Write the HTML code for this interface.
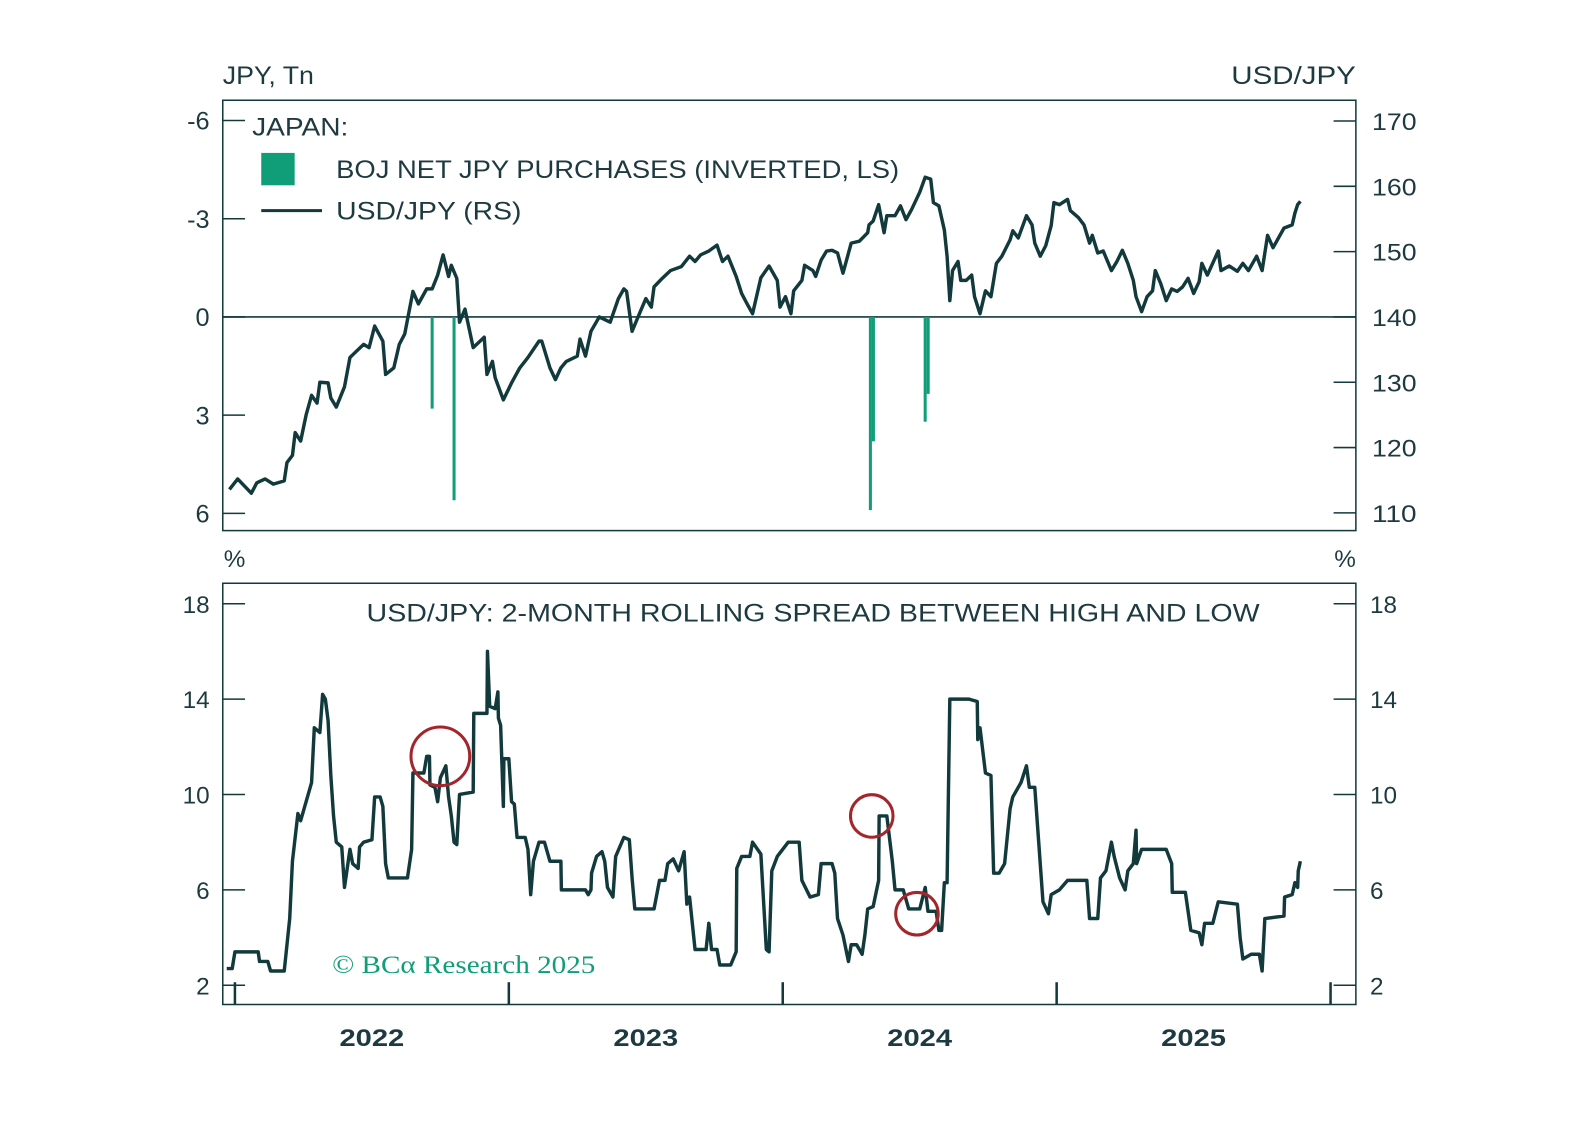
<!DOCTYPE html>
<html><head><meta charset="utf-8">
<style>
html,body{margin:0;padding:0;background:#fff;}
svg{display:block;font-family:"Liberation Sans",sans-serif;}
</style></head>
<body>
<svg id="chart" width="1588" height="1144" viewBox="0 0 1588 1144" xmlns="http://www.w3.org/2000/svg">
<rect x="0" y="0" width="1588" height="1144" fill="#fff"/>
<g transform="scale(1.0126)">
<g id="topPanel"></g>
<g id="botPanel"></g>
</g>
</svg>
<script>
// ---- data ----
const usdDates = [2021.98,2022.01,2022.06,2022.08,2022.11,2022.14,2022.18,2022.19,2022.21,2022.22,2022.24,2022.26,2022.28,2022.30,2022.31,2022.34,2022.35,2022.37,2022.40,2022.42,2022.44,2022.47,2022.49,2022.51,2022.54,2022.55,2022.58,2022.60,2022.62,2022.65,2022.67,2022.70,2022.72,2022.74,2022.76,2022.78,2022.79,2022.81,2022.82,2022.84,2022.87,2022.91,2022.92,2022.94,2022.95,2022.98,2023.01,2023.04,2023.07,2023.11,2023.12,2023.15,2023.17,2023.19,2023.21,2023.25,2023.26,2023.28,2023.30,2023.33,2023.37,2023.40,2023.42,2023.43,2023.45,2023.48,2023.50,2023.52,2023.53,2023.56,2023.59,2023.63,2023.66,2023.68,2023.70,2023.73,2023.76,2023.78,2023.80,2023.83,2023.85,2023.87,2023.89,2023.92,2023.95,2023.98,2023.99,2024.01,2024.03,2024.04,2024.07,2024.08,2024.11,2024.12,2024.14,2024.16,2024.18,2024.20,2024.22,2024.25,2024.28,2024.31,2024.315,2024.33,2024.35,2024.37,2024.38,2024.41,2024.43,2024.45,2024.47,2024.50,2024.52,2024.54,2024.55,2024.57,2024.59,2024.60,2024.61,2024.62,2024.64,2024.65,2024.67,2024.69,2024.70,2024.72,2024.74,2024.76,2024.78,2024.80,2024.83,2024.84,2024.86,2024.89,2024.91,2024.92,2024.94,2024.96,2024.98,2024.99,2025.01,2025.04,2025.05,2025.08,2025.10,2025.12,2025.13,2025.15,2025.17,2025.20,2025.22,2025.24,2025.26,2025.28,2025.29,2025.31,2025.33,2025.35,2025.36,2025.38,2025.40,2025.42,2025.44,2025.46,2025.48,2025.50,2025.52,2025.53,2025.55,2025.59,2025.60,2025.63,2025.66,2025.68,2025.70,2025.73,2025.75,2025.77,2025.79,2025.83,2025.86,2025.87,2025.88,2025.89];
const usdValues = [113.6,115.2,113,114.6,115.2,114.4,114.9,117.7,118.8,122.3,121,125,128,126.8,130,129.9,127.6,126.2,129.3,133.8,134.6,135.8,135.3,138.6,136.3,131.2,132.2,135.8,137.4,143.9,142,144.3,144.3,146.4,149.5,146.2,147.9,145.9,139.2,141.2,135.3,136.9,131.2,133.2,130.7,127.3,129.9,132.2,133.8,136.3,136.3,132.2,130.4,132.2,133.2,134,136.6,134,137.8,140,139.2,142.8,144.3,143.9,137.8,140.8,142.8,141.5,144.6,145.9,147.1,147.7,149.3,148.5,149.5,150.1,151,148.5,149.3,146.2,143.6,142,140.5,146,147.8,145.6,141.5,143.1,140.5,144,145.6,147.9,147.1,146.2,148.7,150.1,150.2,149.8,146.7,151.3,151.6,152.9,154.1,154.7,157.2,152.9,155.5,155.5,157,154.9,156.4,159.1,161.4,161.1,157.5,157,153.3,149.3,142.5,147.1,148.5,145.6,145.6,146.4,143.1,140.5,144,143.1,148.2,149.3,151.8,153.2,152.1,155.5,154.1,151.3,149.3,150.9,154,157.5,157.2,158,156.3,155.2,154.1,151.3,152.5,149.8,150.1,147.1,148.5,150.2,148.2,145.6,143.1,140.8,143.1,144,147.1,145.1,142.5,144.3,143.9,144.6,145.9,143.6,145.4,148.2,146.4,150.1,147.1,147.8,147,148.2,147.1,149.3,147.1,152.5,150.6,153.6,154.1,155.9,157.2,157.7];
const bojDates = [2022.72,2022.80,2024.32,2024.331,2024.52,2024.531];
const bojValues = [2.8,5.6,5.9,3.8,3.2,2.35];
const spreadDates = [2021.97,2021.99,2022.00,2022.085,2022.09,2022.12,2022.13,2022.18,2022.19,2022.20,2022.21,2022.23,2022.24,2022.26,2022.28,2022.29,2022.31,2022.32,2022.33,2022.34,2022.35,2022.36,2022.37,2022.39,2022.40,2022.42,2022.43,2022.45,2022.455,2022.47,2022.50,2022.51,2022.53,2022.54,2022.55,2022.56,2022.63,2022.645,2022.65,2022.69,2022.70,2022.71,2022.712,2022.73,2022.74,2022.75,2022.77,2022.78,2022.79,2022.80,2022.81,2022.82,2022.87,2022.872,2022.92,2022.922,2022.93,2022.95,2022.96,2022.962,2022.97,2022.98,2022.982,2023.00,2023.01,2023.02,2023.03,2023.06,2023.07,2023.08,2023.09,2023.11,2023.13,2023.15,2023.19,2023.192,2023.28,2023.29,2023.30,2023.302,2023.32,2023.34,2023.35,2023.36,2023.38,2023.39,2023.42,2023.44,2023.45,2023.46,2023.53,2023.55,2023.57,2023.58,2023.60,2023.62,2023.64,2023.65,2023.66,2023.68,2023.72,2023.73,2023.74,2023.76,2023.77,2023.81,2023.83,2023.832,2023.85,2023.88,2023.89,2023.92,2023.94,2023.95,2023.96,2023.98,2024.02,2024.06,2024.07,2024.10,2024.13,2024.14,2024.18,2024.19,2024.20,2024.22,2024.24,2024.25,2024.27,2024.29,2024.30,2024.31,2024.33,2024.35,2024.352,2024.38,2024.40,2024.41,2024.44,2024.46,2024.50,2024.52,2024.53,2024.56,2024.57,2024.58,2024.59,2024.60,2024.61,2024.68,2024.71,2024.712,2024.72,2024.74,2024.76,2024.77,2024.79,2024.81,2024.83,2024.84,2024.87,2024.89,2024.90,2024.92,2024.94,2024.95,2024.97,2024.98,2025.01,2025.04,2025.11,2025.12,2025.15,2025.16,2025.18,2025.20,2025.21,2025.23,2025.25,2025.26,2025.28,2025.29,2025.292,2025.31,2025.40,2025.42,2025.422,2025.47,2025.49,2025.52,2025.53,2025.54,2025.57,2025.59,2025.66,2025.67,2025.68,2025.71,2025.74,2025.75,2025.76,2025.83,2025.832,2025.86,2025.87,2025.88,2025.882,2025.89];
const spreadValues = [2.7,2.7,3.4,3.4,3.0,3.0,2.6,2.6,3.7,4.8,7.2,9.2,8.9,9.7,10.5,12.8,12.6,14.2,14.0,13.1,10.8,9.1,8.0,7.8,6.1,7.7,7.1,6.9,7.8,8.0,8.1,9.9,9.9,9.5,7.1,6.5,6.5,7.7,10.9,10.9,11.6,11.6,10.4,10.3,9.7,10.7,11.2,9.9,9.1,8.0,7.9,10.0,10.1,13.4,13.4,16.0,13.7,13.6,14.3,13.2,12.9,9.5,11.5,11.5,9.7,9.6,8.2,8.2,7.7,5.8,7.2,8.0,8.0,7.2,7.2,6.0,6.0,5.8,6.0,6.7,7.4,7.6,7.2,6.1,5.7,7.4,8.2,8.1,6.5,5.2,5.2,6.4,6.4,7.1,7.3,6.8,7.6,5.4,5.7,3.5,3.5,4.6,3.5,3.5,2.85,2.85,3.4,6.9,7.4,7.4,8.0,7.5,3.5,3.4,6.8,7.4,8.0,8.0,6.4,5.7,5.8,7.1,7.1,6.7,4.8,4.1,3.0,3.7,3.7,3.3,4.1,5.2,5.3,6.4,9.1,9.1,7.2,6.0,6.0,5.2,5.2,6.1,5.1,5.1,4.3,4.3,6.3,6.3,14.0,14.0,13.9,12.3,12.8,10.9,10.8,6.7,6.7,7.1,9.4,9.9,10.5,11.2,10.3,10.3,7.1,5.5,5.0,5.8,6.0,6.4,6.4,4.8,4.8,6.5,6.8,8.0,7.4,6.5,6.0,6.8,7.1,8.5,7.1,7.7,7.7,7.1,5.9,5.9,4.3,4.2,3.7,4.6,4.6,5.5,5.4,4.0,3.1,3.3,3.3,2.6,4.8,4.9,5.7,5.8,6.3,6.1,6.8,7.2];
const leftTicks = [-6,-3,0,3,6];
const rightTicks = [170,160,150,140,130,120,110];
const spreadTicks = [18,14,10,6,2];
const yearTicks = [2022,2023,2024,2025,2026];
const yearLabels = ["2022","2023","2024","2025"];
const circleDates = [2022.75,2024.325,2024.49];
const circleValues = [11.6,9.1,5.0];
const circleRadii = [29,21,21];

// ---- scales ----
const X0=220,X1=1339;
const xS = t => 232 + (t-2022)*270.5;
const yL = v => 313 + v*32.33;
const yR = v => 313 - (v-140)*6.45;
const yB = v => 973 - (v-2)*23.55;
const DARK="#123a3c", TXT="#1d3a40", GREEN="#0f9e78";
const NS="http://www.w3.org/2000/svg";
function mk(parent,tag,attrs,text){const e=document.createElementNS(NS,tag);for(const k in attrs)e.setAttribute(k,attrs[k]);if(text!==undefined)e.textContent=text;parent.appendChild(e);return e;}
const topG=document.getElementById('topPanel'), botG=document.getElementById('botPanel');

let el;
el=mk(topG,'text',{x:220,y:83,'font-size':25,fill:TXT,textLength:90,lengthAdjust:'spacingAndGlyphs'},'JPY, Tn');


el=mk(topG,'text',{x:1216,y:83,'font-size':25,fill:TXT,textLength:123,lengthAdjust:'spacingAndGlyphs'},'USD/JPY');


leftTicks.forEach(v=>{
  el=mk(topG,'line',{x1:220,x2:242,y1:yL(v),y2:yL(v),stroke:DARK,'stroke-width':1.5});
  
  
  el=mk(topG,'text',{x:207,y:yL(v)+9,'font-size':25,fill:TXT,'text-anchor':'end'},String(v));
  
  
});
rightTicks.forEach(v=>{
  el=mk(topG,'line',{x1:1317,x2:1339,y1:yR(v),y2:yR(v),stroke:DARK,'stroke-width':1.5});
  
  
  el=mk(topG,'text',{x:1355,y:yR(v)+9,'font-size':24,fill:TXT,textLength:44,lengthAdjust:'spacingAndGlyphs'},String(v));
  
  
});
el=mk(topG,'line',{x1:X0,x2:X1,y1:yL(0),y2:yL(0),stroke:DARK,'stroke-width':1.5});


bojDates.forEach((t,i)=>{
  el=mk(topG,'rect',{x:xS(t)-1.5,y:yL(0),width:3,height:yL(bojValues[i])-yL(0),fill:GREEN});
  
  
});
el=mk(topG,'polyline',{points:usdDates.map((t,i)=>xS(t).toFixed(1)+','+yR(usdValues[i]).toFixed(1)).join(' '),fill:'none',stroke:DARK,'stroke-width':3.4,'stroke-linejoin':'round'});


el=mk(topG,'rect',{x:X0,y:99,width:X1-X0,height:425,fill:'none',stroke:DARK,'stroke-width':1.5});


el=mk(topG,'text',{x:249,y:134,'font-size':25,fill:TXT,textLength:95,lengthAdjust:'spacingAndGlyphs'},'JAPAN:');


el=mk(topG,'rect',{x:258,y:151,width:33,height:32,fill:GREEN});


el=mk(topG,'text',{x:332,y:176,'font-size':25,fill:TXT,textLength:556,lengthAdjust:'spacingAndGlyphs'},'BOJ NET JPY PURCHASES (INVERTED, LS)');


el=mk(topG,'line',{x1:258,x2:318,y1:208,y2:208,stroke:DARK,'stroke-width':3});


el=mk(topG,'text',{x:332,y:217,'font-size':25,fill:TXT,textLength:183,lengthAdjust:'spacingAndGlyphs'},'USD/JPY (RS)');



el=mk(botG,'text',{x:221,y:560,'font-size':24,fill:TXT},'%');


el=mk(botG,'text',{x:1339,y:560,'font-size':24,fill:TXT,'text-anchor':'end'},'%');


spreadTicks.forEach(v=>{
  el=mk(botG,'line',{x1:220,x2:242,y1:yB(v),y2:yB(v),stroke:DARK,'stroke-width':1.5});
  
  
  el=mk(botG,'line',{x1:1317,x2:1339,y1:yB(v),y2:yB(v),stroke:DARK,'stroke-width':1.5});
  
  
  el=mk(botG,'text',{x:207,y:yB(v)+9,'font-size':24,fill:TXT,'text-anchor':'end'},String(v));
  
  
  el=mk(botG,'text',{x:1353,y:yB(v)+9,'font-size':24,fill:TXT},String(v));
  
  
});
yearTicks.forEach(y=>{
  el=mk(botG,'line',{x1:xS(y),x2:xS(y),y1:992,y2:970,stroke:DARK,'stroke-width':2.5});
  
  
});
yearLabels.forEach(s=>{
  el=mk(botG,'text',{x:xS(+s+0.5),y:1033,'font-size':24,fill:TXT,'text-anchor':'middle','font-weight':'bold',textLength:64,lengthAdjust:'spacingAndGlyphs'},s);
  
  
});
el=mk(botG,'text',{x:362,y:614,'font-size':25,fill:TXT,textLength:882,lengthAdjust:'spacingAndGlyphs'},'USD/JPY: 2-MONTH ROLLING SPREAD BETWEEN HIGH AND LOW');


el=mk(botG,'polyline',{points:spreadDates.map((t,i)=>xS(t).toFixed(1)+','+yB(spreadValues[i]).toFixed(1)).join(' '),fill:'none',stroke:DARK,'stroke-width':3.4,'stroke-linejoin':'round'});


circleDates.forEach((t,i)=>{
  el=mk(botG,'circle',{cx:xS(t),cy:yB(circleValues[i]),r:circleRadii[i],fill:'none',stroke:'#a3262c','stroke-width':3});
  
  
});
el=mk(botG,'text',{x:328,y:961,'font-size':25,fill:GREEN,'font-family':'"Liberation Serif",serif',textLength:260,lengthAdjust:'spacingAndGlyphs'},'© BCα Research 2025');


el=mk(botG,'rect',{x:X0,y:576,width:X1-X0,height:416,fill:'none',stroke:DARK,'stroke-width':1.5});


</script>
</body></html>
